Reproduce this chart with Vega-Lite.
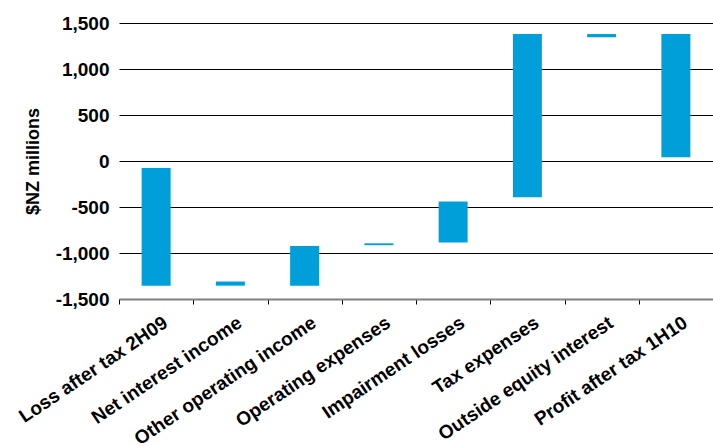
{
  "$schema": "https://vega.github.io/schema/vega-lite/v6.json",
  "width": 594,
  "height": 276,
  "autosize": {"type": "none"},
  "padding": {"left": 119, "top": 23, "right": 0, "bottom": 147},
  "background": "white",
  "config": {"view": {"stroke": null}},
  "data": {
    "values": [
      {"item": "Loss after tax 2H09", "start": -1355, "end": -75},
      {"item": "Net interest income", "start": -1355, "end": -1310},
      {"item": "Other operating income", "start": -1355, "end": -925},
      {"item": "Operating expenses", "start": -915, "end": -895},
      {"item": "Impairment losses", "start": -885, "end": -440},
      {"item": "Tax expenses", "start": -395, "end": 1380},
      {"item": "Outside equity interest", "start": 1345, "end": 1380},
      {"item": "Profit after tax 1H10", "start": 40, "end": 1380}
    ]
  },
  "mark": {"type": "bar", "color": "#009FDA", "size": 29},
  "encoding": {
    "x": {
      "field": "item",
      "type": "nominal",
      "sort": null,
      "scale": {"paddingInner": 0, "paddingOuter": 0},
      "axis": {
        "title": null,
        "labelAngle": -34,
        "labelLimit": 0,
        "labelFont": "Liberation Sans",
        "labelFontWeight": "bold",
        "labelFontSize": 19,
        "labelColor": "black",
        "labelPadding": 9,
        "labelOffset": 4,
        "domainColor": "#808080",
        "domainWidth": 2,
        "tickColor": "black",
        "tickSize": 5,
        "tickWidth": 1,
        "tickBand": "extent",
        "grid": false
      }
    },
    "y": {
      "field": "start",
      "type": "quantitative",
      "scale": {"domain": [-1500, 1500], "nice": false, "zero": false},
      "axis": {
        "title": "$NZ millions",
        "titleFont": "Liberation Sans",
        "titleFontWeight": "bold",
        "titleFontSize": 18,
        "titleColor": "black",
        "titlePadding": 13,
        "values": [-1500, -1000, -500, 0, 500, 1000, 1500],
        "format": ",d",
        "labelExpr": "replace(datum.label, '\u2212', '-')",
        "labelFont": "Liberation Sans",
        "labelFontWeight": "bold",
        "labelFontSize": 19,
        "labelColor": "black",
        "labelPadding": 10,
        "ticks": false,
        "domain": false,
        "grid": true,
        "gridColor": "black",
        "gridWidth": 1.2
      }
    },
    "y2": {"field": "end"}
  }
}
